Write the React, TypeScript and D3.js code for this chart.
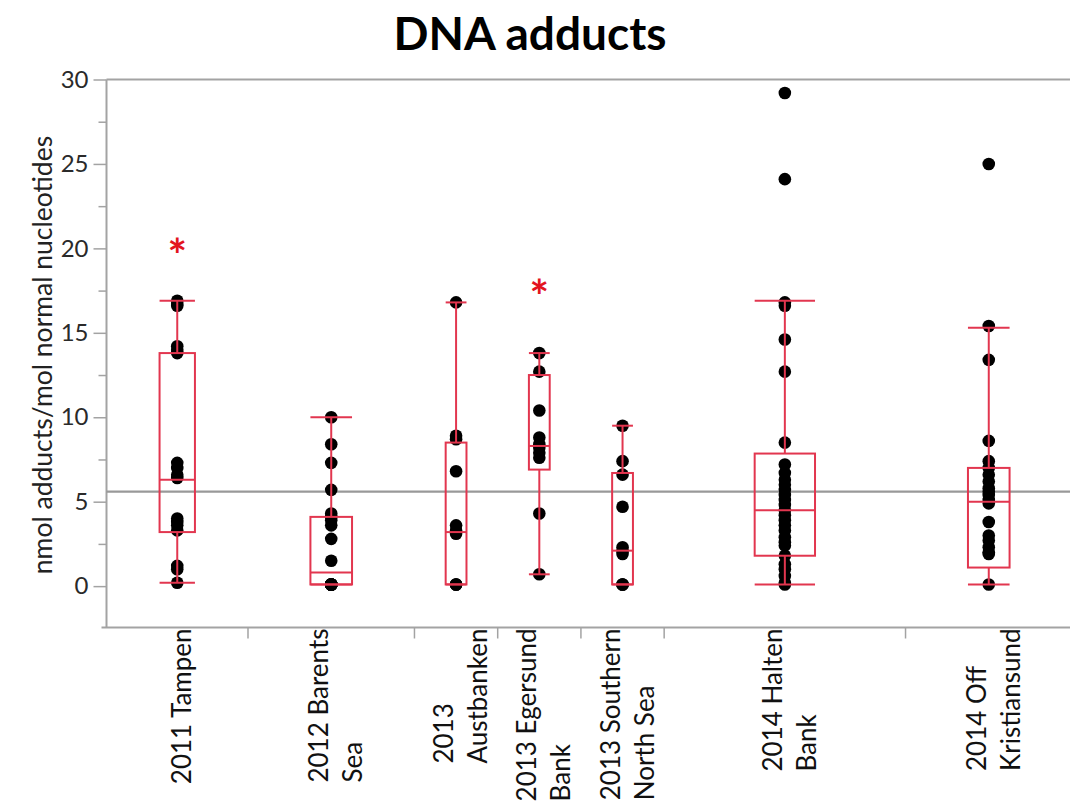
import { useRef, useEffect } from "react";
import * as d3 from "d3";

// site labels, one entry per line of the wrapped label
const sites = [
  ["2011 Tampen"],
  ["2012 Barents", "Sea"],
  ["2013", "Austbanken"],
  ["2013 Egersund", "Bank"],
  ["2013 Southern", "North Sea"],
  ["2014 Halten", "Bank"],
  ["2014 Off", "Kristiansund"],
];

// individual fish, nmol adducts/mol normal nucleotides
const tampen = [16.9, 16.7, 16.6, 14.2, 14.0, 13.8, 7.3, 7.0, 6.6, 6.4, 4.0, 3.8, 3.6, 3.3, 1.2, 1.0, 0.2];
const barents = [10.0, 8.4, 7.3, 5.7, 4.3, 4.1, 3.9, 3.6, 2.8, 1.5, 0.1, 0.1, 0.1, 0.1, 0.1, 0.1, 0.1, 0.1, 0.1, 0.1];
const austbanken = [16.8, 8.9, 8.7, 6.8, 3.6, 3.3, 3.1, 0.1, 0.1, 0.1];
const egersund = [13.8, 12.7, 10.4, 8.8, 8.4, 8.2, 7.9, 7.6, 4.3, 0.7];
const southern = [9.5, 7.4, 6.6, 4.7, 2.3, 2.1, 1.9, 0.1, 0.1, 0.1];
const halten = [29.2, 24.1, 16.8, 16.6, 14.6, 12.7, 8.5, 7.2, 6.7, 6.3, 6.0, 5.7, 5.4, 5.1, 4.8, 4.5, 4.2, 3.9, 3.6, 3.3, 2.9, 2.6, 2.4, 1.8, 1.3, 1.0, 0.6, 0.2, 0.1];
const kristiansund = [25.0, 15.4, 13.4, 8.6, 7.4, 7.0, 6.6, 6.2, 5.8, 5.6, 5.4, 5.1, 4.9, 3.8, 3.0, 2.7, 2.3, 2.0, 1.9, 0.1];

const values = [tampen, barents, austbanken, egersund, southern, halten, kristiansund];

// box plot summaries as drawn
const whiskerLow = [0.2, 0.1, 0.1, 0.7, 0.1, 0.1, 0.1];
const q1 = [3.2, 0.1, 0.1, 6.9, 0.1, 1.8, 1.1];
const median = [6.3, 0.8, 3.2, 8.3, 2.1, 4.5, 5.0];
const q3 = [13.8, 4.1, 8.5, 12.5, 6.7, 7.85, 7.0];
const whiskerHigh = [16.9, 10.0, 16.8, 13.8, 9.5, 16.9, 15.3];

// significance markers (value where the star sits)
const stars = [20.2, null, null, 17.8, null, null, null];

const grandMean = 5.6;
const yTicks = [0, 5, 10, 15, 20, 25, 30];
const yMinorTicks = [2.5, 7.5, 12.5, 17.5, 22.5, 27.5];

export default function App() {
  const svgRef = useRef<SVGSVGElement>(null);

  useEffect(() => {
    const w = 1070;
    const h = 805;
    const left = 106.5;
    const right = 1072;
    const top = 79.5;
    const bottom = 627.5;
    const font = "Lato, 'Open Sans', sans-serif";
    const red = "#e2364f";
    const grey = "#a3a3a3";

    const svg = d3.select(svgRef.current).attr("width", w).attr("height", h);
    svg.selectAll("*").remove();

    // scales: category width proportional to sample size
    const y = d3.scaleLinear().domain([-2.45, 30]).range([bottom, top]);
    const counts = values.map((v) => v.length);
    const edges = Array.from(d3.cumsum(counts));
    const x = d3.scaleLinear().domain([0, edges[edges.length - 1]]).range([left, right]);
    const centers = counts.map((c, i) => x(edges[i] - c / 2));
    const bandW = counts.map((c) => x(c) - x(0));

    // title
    svg
      .append("text")
      .attr("x", 530)
      .attr("y", 50)
      .attr("text-anchor", "middle")
      .attr("font-family", font)
      .attr("font-weight", 700)
      .attr("font-size", 46)
      .attr("fill", "#000")
      .text("DNA adducts");

    // y axis
    const yAxis = svg
      .append("g")
      .attr("transform", `translate(${left},0)`)
      .call(d3.axisLeft(y).tickValues(yTicks).tickSize(13).tickPadding(5));
    yAxis.select(".domain").remove();
    yAxis.selectAll("line").attr("stroke", grey).attr("stroke-width", 1.5);
    yAxis
      .selectAll("text")
      .attr("font-family", font)
      .attr("font-size", 24)
      .attr("fill", "#2a2a2a");

    const yMinor = svg
      .append("g")
      .attr("transform", `translate(${left},0)`)
      .call(d3.axisLeft(y).tickValues(yMinorTicks).tickSize(8).tickFormat(() => ""));
    yMinor.select(".domain").remove();
    yMinor.selectAll("line").attr("stroke", grey).attr("stroke-width", 1.5);

    // frame lines
    svg.append("line").attr("x1", left).attr("x2", left).attr("y1", top).attr("y2", bottom)
      .attr("stroke", grey).attr("stroke-width", 2);
    svg.append("line").attr("x1", left).attr("x2", w).attr("y1", top).attr("y2", top)
      .attr("stroke", grey).attr("stroke-width", 2);
    svg.append("line").attr("x1", left - 5).attr("x2", w).attr("y1", bottom).attr("y2", bottom)
      .attr("stroke", grey).attr("stroke-width", 2);

    // category separators
    svg
      .selectAll(".sep")
      .data(edges.slice(0, -1))
      .join("line")
      .attr("x1", (d) => x(d))
      .attr("x2", (d) => x(d))
      .attr("y1", bottom)
      .attr("y2", bottom + 11)
      .attr("stroke", grey)
      .attr("stroke-width", 1.5);

    // y label
    svg
      .append("text")
      .attr("transform", `translate(52, 355) rotate(-90)`)
      .attr("text-anchor", "middle")
      .attr("font-family", font)
      .attr("font-size", 26.5)
      .attr("fill", "#222")
      .text("nmol adducts/mol normal nucleotides");

    // grand mean line
    svg
      .append("line")
      .attr("x1", left)
      .attr("x2", w)
      .attr("y1", y(grandMean))
      .attr("y2", y(grandMean))
      .attr("stroke", "#999")
      .attr("stroke-width", 2.2);

    // points
    values.forEach((vals, i) => {
      svg
        .append("g")
        .selectAll("circle")
        .data(vals)
        .join("circle")
        .attr("cx", centers[i])
        .attr("cy", (d) => y(d))
        .attr("r", 6.3)
        .attr("fill", "#000");
    });

    // boxes on top of points
    values.forEach((_, i) => {
      const g = svg.append("g").attr("stroke", red).attr("stroke-width", 2).attr("fill", "none");
      const bw = bandW[i] * 0.25;
      const cx = centers[i];
      g.append("rect")
        .attr("x", cx - bw / 2)
        .attr("y", y(q3[i]))
        .attr("width", bw)
        .attr("height", y(q1[i]) - y(q3[i]));
      g.append("line").attr("x1", cx - bw / 2).attr("x2", cx + bw / 2)
        .attr("y1", y(median[i])).attr("y2", y(median[i]));
      g.append("line").attr("x1", cx).attr("x2", cx)
        .attr("y1", y(q3[i])).attr("y2", y(whiskerHigh[i]));
      g.append("line").attr("x1", cx).attr("x2", cx)
        .attr("y1", y(q1[i])).attr("y2", y(whiskerLow[i]));
      [whiskerHigh[i], whiskerLow[i]].forEach((v) => {
        g.append("line").attr("x1", cx - bw / 2).attr("x2", cx + bw / 2)
          .attr("y1", y(v)).attr("y2", y(v));
      });
    });

    // significance stars
    stars.forEach((s, i) => {
      if (s == null) return;
      svg
        .append("text")
        .attr("x", centers[i])
        .attr("y", y(s) + 27)
        .attr("text-anchor", "middle")
        .attr("font-family", font)
        .attr("font-weight", 700)
        .attr("font-size", 46)
        .attr("fill", "#e3141e")
        .text("*");
    });

    // x labels, rotated, wrapped lines aligned at their start
    sites.forEach((lines, i) => {
      const g = svg.append("g");
      const texts = lines.map((line) =>
        g
          .append("text")
          .attr("font-family", font)
          .attr("font-size", 26)
          .attr("fill", "#111")
          .attr("text-anchor", "start")
          .text(line)
      );
      const maxLen = d3.max(texts, (t) => (t.node() as SVGTextElement).getComputedTextLength()) || 0;
      texts.forEach((t, j) => {
        const xc = centers[i] + 4 + (j - (lines.length - 1) / 2) * 34;
        t.attr("transform", `translate(${xc + 10}, ${bottom + 1 + maxLen}) rotate(-90)`);
      });
    });
  }, []);

  return <svg ref={svgRef} style={{ position: "absolute", left: 0, top: 0 }}></svg>;
}
